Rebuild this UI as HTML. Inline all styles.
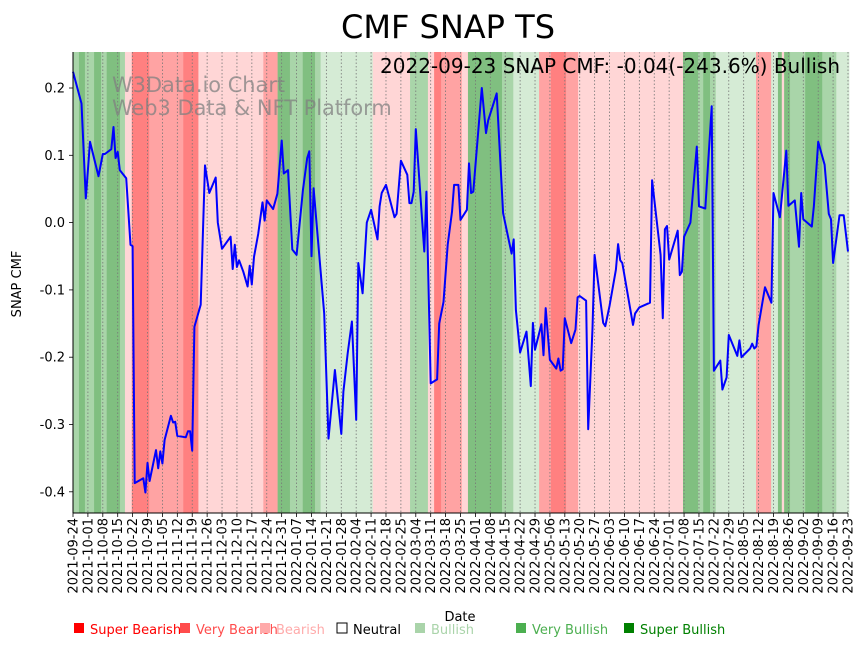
<!DOCTYPE html>
<html><head><meta charset="utf-8"><style>
body{margin:0;background:#fff;width:864px;height:646px;overflow:hidden}
svg{font-family:"DejaVu Sans","Liberation Sans",sans-serif}
</style></head><body>
<svg id="c" width="864" height="646"></svg>
<script>
const pointDays=[0,4,6,8,12,14,15,18,19,20,21,22,25,27,28,29,33,34,35,36,39,40,41,42,43,46,47,48,49,53,54,55,56,57,60,62,64,67,68,70,74,75,76,77,78,80,82,83,84,85,87,89,90,91,94,96,98,99,101,103,105,108,110,111,112,113,118,120,123,126,127,129,131,133,134,136,138,140,143,144,145,147,151,152,154,157,158,159,160,161,165,166,168,171,172,174,176,178,179,181,182,185,186,187,188,192,194,195,199,202,206,207,208,210,213,215,216,217,220,221,222,224,227,228,229,230,231,234,236,237,238,241,242,244,245,249,250,252,255,256,257,258,263,264,266,271,272,276,277,278,279,280,284,285,286,287,290,293,294,297,300,301,304,305,307,308,312,313,314,318,319,320,321,322,325,328,329,332,335,336,339,341,342,343,347,348,350,353,355,356,357,360,362,364];
const cmfValues=[0.224,0.177,0.036,0.120,0.069,0.102,0.102,0.109,0.142,0.096,0.105,0.078,0.066,-0.033,-0.035,-0.387,-0.380,-0.401,-0.357,-0.384,-0.338,-0.365,-0.340,-0.358,-0.323,-0.287,-0.297,-0.296,-0.317,-0.319,-0.310,-0.310,-0.339,-0.155,-0.122,0.085,0.044,0.067,0.000,-0.039,-0.021,-0.069,-0.033,-0.066,-0.056,-0.073,-0.095,-0.064,-0.092,-0.051,-0.017,0.030,0.003,0.033,0.020,0.043,0.122,0.073,0.078,-0.040,-0.048,0.048,0.096,0.106,-0.050,0.051,-0.135,-0.321,-0.219,-0.314,-0.251,-0.194,-0.147,-0.293,-0.060,-0.105,0.000,0.019,-0.025,0.024,0.044,0.056,0.008,0.013,0.092,0.071,0.029,0.029,0.046,0.139,-0.043,0.046,-0.239,-0.233,-0.150,-0.118,-0.033,0.016,0.056,0.056,0.004,0.019,0.088,0.044,0.046,0.200,0.133,0.152,0.192,0.014,-0.046,-0.025,-0.130,-0.193,-0.162,-0.243,-0.149,-0.189,-0.151,-0.197,-0.127,-0.204,-0.217,-0.202,-0.220,-0.218,-0.142,-0.179,-0.159,-0.111,-0.109,-0.116,-0.307,-0.157,-0.048,-0.149,-0.154,-0.124,-0.070,-0.032,-0.056,-0.060,-0.152,-0.135,-0.126,-0.119,0.063,-0.048,-0.142,-0.010,-0.005,-0.055,-0.012,-0.078,-0.073,-0.021,0.000,0.113,0.024,0.021,0.173,-0.220,-0.205,-0.248,-0.230,-0.167,-0.198,-0.175,-0.200,-0.187,-0.180,-0.187,-0.184,-0.152,-0.096,-0.119,0.044,0.008,0.107,0.025,0.033,-0.036,0.044,0.005,-0.006,0.025,0.120,0.086,0.013,0.005,-0.060,0.011,0.011,-0.043];
const bandStart=[0,2.8,5.6,9.9,13.2,15.8,22.1,24.4,27.6,35.8,51.8,58.9,89.4,96.1,101.9,107.9,113.7,116.3,140.8,158.3,166.7,169.6,172.9,182.6,185.5,201.5,206.8,218.9,224.5,231.6,237.2,286.5,293.6,296,299.2,301.9,320.8,327.9,331.1,332.9,334,336.8,343.9,351.9,358.5];
const bandCat=[5,6,5,6,5,6,5,2,0,1,0,2,1,6,5,6,5,4,2,5,2,0,1,2,6,5,4,1,0,1,2,6,5,6,5,4,1,4,6,2,6,5,6,5,4];
const yTicks=[0.2,0.1,0.0,-0.1,-0.2,-0.3,-0.4];
const catNames=["Super Bearish","Very Bearish","Bearish","Neutral","Bullish","Very Bullish","Super Bullish"];
const catBg=["#ff8080","#ffa3a3","#ffd6d6","#ffffff","#d5ebd5","#a9d5a9","#80bf80"];
const catLegend=["#ff0000","#ff4c4c","#ffaaaa","#ffffff","#aad4aa","#4caf50","#008000"];
const startDate=new Date(Date.UTC(2021,8,24));
const totalDays=364;
const X0=73,X1=848,Y0=52,Y1=513;
const xs=d=>X0+d*(X1-X0)/totalDays;
const ys=v=>222.6-v*673;
const NS="http://www.w3.org/2000/svg";
const svg=document.getElementById('c');
function mk(t,a,p){const e=document.createElementNS(NS,t);for(const k in a)e.setAttribute(k,a[k]);(p||svg).appendChild(e);return e;}
for(let i=0;i<bandStart.length;i++){
 const s=bandStart[i],e=i+1<bandStart.length?bandStart[i+1]:totalDays+0.5;
 const r=mk('rect',{x:xs(s),y:Y0,width:xs(e)-xs(s)+0.3,height:Y1-Y0,fill:catBg[bandCat[i]]});
 
 
}
for(let w=0;w*7<=totalDays;w++){
 const d=w*7,x=xs(d);
 const g=mk('line',{x1:x,x2:x,y1:Y0,y2:Y1,stroke:'#777','stroke-width':0.8,'stroke-dasharray':'1.5,2'});
 
 
 mk('line',{x1:x,x2:x,y1:Y1,y2:Y1+4,stroke:'#000','stroke-width':0.8});
 const dt=new Date(startDate.getTime()+d*86400000);
 const lbl=dt.toISOString().slice(0,10);
 const t=mk('text',{x:0,y:0,'font-size':13,'text-anchor':'end',transform:`translate(${x+4.5},518) rotate(-90)`});
 t.textContent=lbl;
 
 
}
yTicks.forEach(v=>{
 const y=ys(v);
 mk('line',{x1:X0-4,x2:X0,y1:y,y2:y,stroke:'#000','stroke-width':0.8});
 const t=mk('text',{x:X0-8,y:y+4.5,'font-size':13,'text-anchor':'end'});
 t.textContent=v.toFixed(1);
 
 
});
const pts=pointDays.map((d,i)=>xs(d).toFixed(1)+','+ys(cmfValues[i]).toFixed(1)).join(' ');
const pl=mk('polyline',{points:pts,fill:'none',stroke:'#0000ff','stroke-width':2,'stroke-linejoin':'round'});


mk('line',{x1:X0,x2:X0,y1:Y0,y2:Y1,stroke:'#000','stroke-width':1});
mk('line',{x1:X0,x2:X1,y1:Y1,y2:Y1,stroke:'#000','stroke-width':1});
const legX=[73,179,259,336,414,515,623];
catNames.forEach((n,i)=>{
 const r=mk('rect',{x:legX[i]+1,y:623,width:10,height:10,fill:catLegend[i],stroke:i==3?'#000':'none','stroke-width':1});
 
 
 const t=mk('text',{x:legX[i]+17,y:634,'font-size':13,fill:i==3?'#000':catLegend[i]});
 t.textContent=n;
 
 
});
</script>
<svg width="864" height="646" style="position:absolute;left:0;top:0;pointer-events:none">
<text x="448" y="38" font-size="32" text-anchor="middle">CMF SNAP TS</text>
<text x="840" y="73" font-size="20" text-anchor="end">2022-09-23 SNAP CMF: -0.04(-243.6%) Bullish</text>
<text x="112" y="92" font-size="20.9" fill="#808080" fill-opacity="0.75">W3Data.io Chart</text>
<text x="112" y="115" font-size="20.9" fill="#808080" fill-opacity="0.75">Web3 Data &amp; NFT Platform</text>
<text x="460" y="621" font-size="13" text-anchor="middle">Date</text>
<text transform="translate(21,284) rotate(-90)" font-size="13" text-anchor="middle">SNAP CMF</text>
</svg>
</body></html>
